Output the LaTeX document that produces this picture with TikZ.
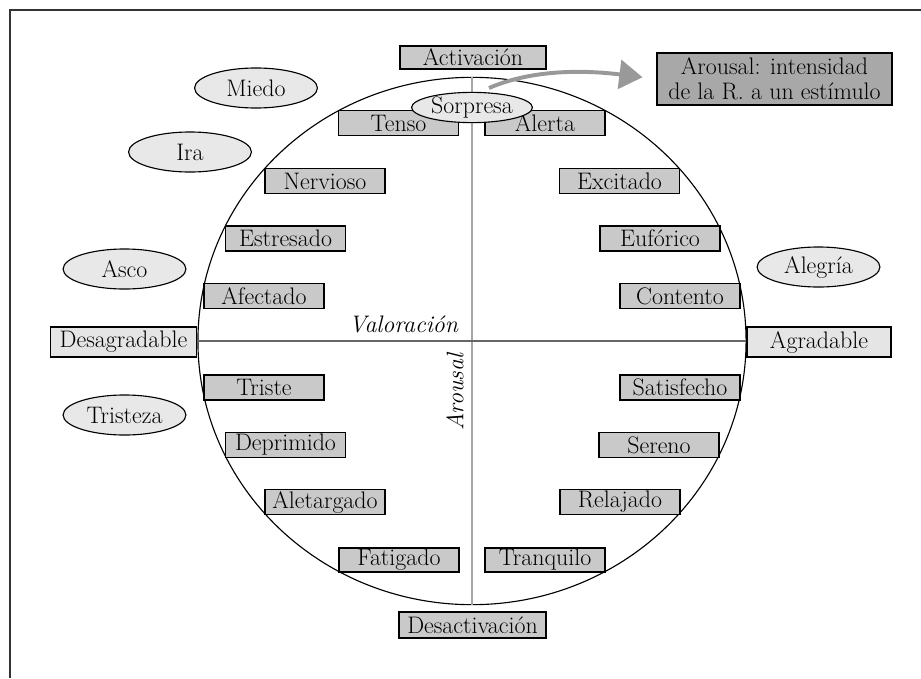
\documentclass[tikz,border=0pt]{standalone}
\usepackage{fontspec}
\usepackage{tikz}
\usetikzlibrary{shapes.geometric,arrows.meta}
\definecolor{boxgray}{gray}{0.79}
\definecolor{polegray}{gray}{0.9}
\definecolor{emogray}{gray}{0.91}
\definecolor{notegray}{gray}{0.66}
\definecolor{axisgray}{gray}{0.65}
\definecolor{arrowgray}{gray}{0.6}

\begin{document}
\begin{tikzpicture}[x=0.025cm,y=-0.025cm,
	every node/.style={font=\fontsize{17}{18}\selectfont},
	estado/.style={draw,fill=boxgray,line width=0.9pt,inner sep=0pt,minimum width=3cm,minimum height=0.63cm},
	polo/.style={draw,fill=polegray,line width=0.9pt,inner sep=0pt,minimum width=3.65cm,minimum height=0.75cm},
	emocion/.style={draw,ellipse,fill=emogray,line width=0.8pt,inner sep=0pt,minimum width=3.07cm,minimum height=1cm}]
	\useasboundingbox (0,0) rectangle (921,678);
	
	% marco
	\draw[line width=1.2pt,black!80] (10,678) -- (10,10) -- (921,10);
	
	% circulo y ejes
	\node[draw,ellipse,line width=0.8pt,inner sep=0pt,minimum width=13.7cm,minimum height=13.18cm] (circ) at (472,341) {};
	\draw[axisgray,line width=1.5pt] (circ.north) -- (circ.south);
	\draw[black!60,line width=1pt] (circ.west) -- (circ.east);
	\node[anchor=base east,font=\fontsize{17}{18}\selectfont\itshape] (val) at (463,332) {Valoración};
	\node[rotate=90,font=\fontsize{17}{18}\selectfont\itshape] (aro) at (455,392) {Arousal};
	
	% polos
	\node[estado,minimum width=3.65cm,minimum height=0.58cm] (act) at (473,57.5) {Activación};
	\node[estado,minimum width=3.67cm,minimum height=0.65cm] (desact) at (472.5,625) {Desactivación};
	\node[polo] (desag) at (123.5,342) {Desagradable};
	\node[polo,minimum width=3.6cm] (agrad) at (819,342) {Agradable};
	
	% estados
	\node[estado] (tenso) at (398.5,123) {Tenso};
	\node[estado] (alerta) at (545,123) {Alerta};
	\node[estado] (nerv) at (325,181) {Nervioso};
	\node[estado] (excit) at (619.5,181) {Excitado};
	\node[estado] (estres) at (285.5,238.5) {Estresado};
	\node[estado] (eufor) at (660,238.5) {Eufórico};
	\node[estado] (afect) at (264,296) {Afectado};
	\node[estado] (conten) at (680,296) {Contento};
	\node[estado] (triste) at (264,387.5) {Triste};
	\node[estado] (satisf) at (680,387.5) {Satisfecho};
	\node[estado] (depri) at (285.5,445) {Deprimido};
	\node[estado] (sereno) at (659,445) {Sereno};
	\node[estado] (aletar) at (325,502) {Aletargado};
	\node[estado] (relaj) at (620,502) {Relajado};
	\node[estado,minimum height=0.6cm] (fatig) at (399,560) {Fatigado};
	\node[estado,minimum height=0.6cm] (tranq) at (545,560) {Tranquilo};
	
	% emociones
	\node[emocion,minimum width=3.02cm,minimum height=0.63cm] (sorp) at (472,107.5) {Sorpresa};
	\node[emocion] (miedo) at (256,88) {Miedo};
	\node[emocion] (ira) at (190,152) {Ira};
	\node[emocion] (asco) at (124.5,269) {Asco};
	\node[emocion] (alegria) at (818.5,267) {Alegría};
	\node[emocion] (tristeza) at (124.5,415) {Tristeza};
	
	% nota
	\node[draw,fill=notegray,line width=0.9pt,inner sep=0pt,align=center,minimum width=5.87cm,minimum height=1.3cm] (nota) at (774.5,79) {Arousal: intensidad\\de la R. a un estímulo};
	\coordinate (flecha) at (489,88);
	\draw[arrowgray,line width=2.8pt,shorten >=0.35cm,-{Triangle[length=0.58cm,width=0.72cm]}] (flecha) .. controls (540,66) and (600,72) .. (nota.west);
\end{tikzpicture}
\end{document}
